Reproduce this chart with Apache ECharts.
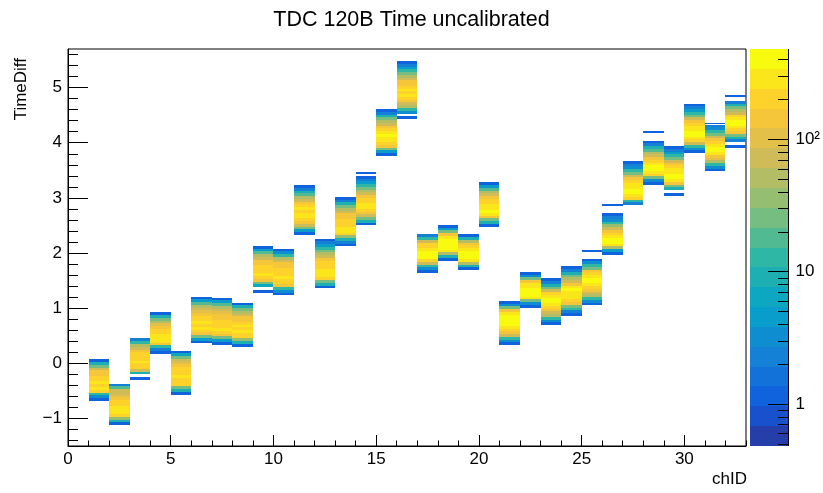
<!DOCTYPE html>
<html><head><meta charset="utf-8">
<script src="https://cdn.jsdelivr.net/npm/echarts@6/dist/echarts.min.js"></script>
<style>html,body{margin:0;padding:0;background:#fff}#c{width:823px;height:493px}</style>
</head><body><div id="c"></div>
<script>
// ---------- data ----------
const title = 'TDC 120B Time uncalibrated';
const xName = 'chID';
const yName = 'TimeDiff';
const channels = [1,2,3,4,5,6,7,8,9,10,11,12,13,14,15,16,17,18,19,20,21,22,23,24,25,26,27,28,29,30,31,32];
// lower edge (TimeDiff) of the first filled bin of each channel
const binStart = [-0.68,-1.12,-0.30,0.175,-0.57,0.36,0.34,0.30,1.28,1.23,2.33,1.36,2.12,2.50,3.76,4.43,
                  1.64,1.86,1.69,2.48,0.33,1.01,0.69,0.86,1.05,1.97,2.87,3.24,3.04,3.81,3.48,3.91];
// bin contents, bottom to top, per channel
const counts = [
  [1,3,12,200,280,200,250,200,200,130,130,70,30,10,1],
  [1,10,40,200,250,280,250,200,180,130,100,80,70,20,2],
  [1,0,10,80,200,200,260,200,200,180,130,80,50,15,2],
  [1,2,15,150,260,300,260,200,200,130,100,60,25,8,1],
  [1,8,30,200,200,200,250,200,200,180,150,100,70,25,6,1],
  [1,5,30,150,200,250,200,250,200,200,150,100,80,50,20,5,1],
  [1,5,25,150,200,260,200,200,200,150,130,100,70,50,20,5,1],
  [1,8,40,200,200,260,200,250,200,150,130,80,60,25,8,1],
  [1,0,6,25,150,200,260,200,200,200,150,130,80,50,20,5,1],
  [1,3,15,130,200,200,250,200,200,200,150,130,80,50,15,3,1],
  [1,5,25,70,130,200,250,260,200,250,200,150,80,50,20,8,2,1],
  [1,8,30,200,250,280,250,200,200,200,130,80,50,25,12,5,2,1],
  [1,2,8,40,200,250,260,200,200,200,150,130,80,50,25,8,2,1],
  [1,8,30,80,150,200,250,260,200,200,130,80,50,25,12,4,2,1],
  [1,5,30,150,200,300,300,350,250,200,130,80,50,25,8,2,1],
  [1,0,3,15,50,80,130,200,250,200,250,200,150,130,80,50,25,12,5,2,1],
  [1,3,12,70,200,350,420,350,250,200,200,80,15,2],
  [1,8,50,250,400,450,400,350,250,130,30,5,1],
  [1,8,50,250,350,420,350,250,200,150,50,8,1],
  [1,8,30,150,250,350,300,250,220,200,130,80,50,20,5,1],
  [1,3,15,80,150,200,250,350,400,400,350,250,150,25,3,1],
  [1,3,30,250,350,420,400,300,250,130,25,3,1],
  [1,3,12,50,80,130,200,300,400,400,300,200,80,30,8,2,1],
  [1,2,12,30,130,200,250,250,300,350,250,150,80,50,25,8,2,1],
  [1,3,15,50,80,130,200,300,400,400,300,200,130,30,12,3,1],
  [1,5,50,250,350,400,300,200,150,80,40,15,3,2,1],
  [2,15,200,300,400,400,300,250,200,130,70,30,12,3,2,1],
  [1,3,25,200,300,400,350,300,200,150,80,50,20,8,2,1],
  [1,0,8,30,150,250,350,400,300,250,200,130,70,30,12,5,2,1],
  [1,3,15,80,200,300,400,350,300,250,200,130,70,30,12,5,2,1],
  [1,3,15,50,100,150,300,400,350,300,200,130,70,30,12,3,2],
  [1,0,2,8,25,130,200,300,400,350,300,200,80,50,25,8,2]
];
// isolated single entries
const outlierCh = [14,25,26,28,31,32];
const outlierY = [3.45,2.04,2.87,4.19,4.35,4.85];
const outlierCount = [1,1,1,1,1,1];
// axes
const xTicks = [0,5,10,15,20,25,30];
const yTicks = [-1,0,1,2,3,4,5];
const zTicks = [1,10,100];
const zTickLabels = ['1','10','10²'];
const zMinorTicks = [0.5,0.6,0.7,0.8,0.9,2,3,4,5,6,7,8,9,20,30,40,50,60,70,80,90,200,300,400];

// ---------- constants ----------
const BIN = 0.05, OUT_H = 0.03;
const X_MIN = 0, X_MAX = 33, Y_MIN = -1.5, Y_MAX = 5.7;
const Z_MIN = 0.48, Z_MAX = 480, N_LEVELS = 20;
const LMIN = Math.log10(Z_MIN), LMAX = Math.log10(Z_MAX);
const FONT = '"Liberation Sans", Arial, Helvetica, sans-serif';
const CB = {left:750, top:49, width:38, height:397};

// ROOT kBird palette
const ST = [0,0.125,0.25,0.375,0.5,0.625,0.75,0.875,1];
const R = [0.2082,0.0592,0.0780,0.0232,0.1802,0.5301,0.8186,0.9956,0.9764];
const G = [0.1664,0.3599,0.5041,0.6419,0.7178,0.7492,0.7328,0.7862,0.9832];
const B = [0.5293,0.8684,0.8385,0.7914,0.6425,0.4662,0.3499,0.1968,0.0539];
function paletteAt(f){
  f = Math.max(0, Math.min(1, f));
  let k = 0; while (k < ST.length-2 && f > ST[k+1]) k++;
  const t = (f-ST[k])/(ST[k+1]-ST[k]);
  const c = a => Math.round(255*(a[k]+(a[k+1]-a[k])*t));
  return 'rgb('+c(R)+','+c(G)+','+c(B)+')';
}
const levelColors = [];
for (let i=0;i<N_LEVELS;i++) levelColors.push(paletteAt((i+0.99)/N_LEVELS));
function colorFor(c){
  let k = Math.floor((Math.log10(c)-LMIN)/(LMAX-LMIN)*N_LEVELS);
  k = Math.max(0, Math.min(N_LEVELS-1, k));
  return levelColors[k];
}

// ---------- build cells ----------
const cells = [];
channels.forEach((ch, i) => {
  counts[i].forEach((c, j) => {
    if (c > 0) cells.push([ch, binStart[i]+j*BIN, binStart[i]+(j+1)*BIN, c]);
  });
});
outlierCh.forEach((ch, i) => {
  cells.push([ch, outlierY[i]-OUT_H/2, outlierY[i]+OUT_H/2, outlierCount[i]]);
});

function rectFrom(api, x0, y0, x1, y1, fill){
  const p0 = api.coord([x0, y0]), p1 = api.coord([x1, y1]);
  const xa = Math.round(p0[0]), xb = Math.round(p1[0]);
  const ya = Math.round(p1[1]), yb = Math.round(p0[1]);
  return {type:'rect', shape:{x:xa, y:ya, width:xb-xa, height:Math.max(1,yb-ya)}, style:{fill:fill}};
}

// ---------- colour bar: bands, frame line and ticks (drawn in order, ticks last) ----------
const zY = lv => CB.top + (LMAX - lv)/(LMAX - LMIN)*CB.height;
const xr = CB.left + CB.width;
const cbChildren = [];
for (let i=0;i<N_LEVELS;i++){
  const lo = LMIN + i*(LMAX-LMIN)/N_LEVELS, hi = LMIN + (i+1)*(LMAX-LMIN)/N_LEVELS;
  const ya = Math.round(zY(hi)), yb = Math.round(zY(lo));
  cbChildren.push({type:'rect', z2:1, silent:true, shape:{x:CB.left, y:ya, width:CB.width, height:yb-ya}, style:{fill:levelColors[i]}});
}
cbChildren.push({type:'rect', z2:10, silent:true, shape:{x:xr, y:CB.top, width:1, height:CB.height}, style:{fill:'#000'}});
zTicks.concat(zMinorTicks).forEach(v => {
  const len = zTicks.indexOf(v) >= 0 ? 20 : 10;
  const y = Math.round(zY(Math.log10(v)));
  cbChildren.push({type:'rect', z2:10, silent:true, shape:{x:xr-len, y:y, width:len, height:1}, style:{fill:'#000'}});
});

const chart = echarts.init(document.getElementById('c'), null, {renderer:'canvas'});
const labelStyle = {color:'#000', fontFamily:FONT, fontSize:17};
const range = (a,b,s) => { const r=[]; for(let v=a; v<=b+1e-9; v+=s) r.push(Math.round(v*100)/100); return r; };

chart.setOption({
  animation:false,
  backgroundColor:'#fff',
  title:{text:title, left:'center', top:4, textStyle:{fontFamily:FONT, fontSize:21.5, fontWeight:'normal', color:'#000'}},
  grid:[
    {left:68, top:49, width:678, height:397, show:true, borderColor:'#000', borderWidth:1, backgroundColor:'transparent'},
    {left:CB.left, top:CB.top, width:CB.width, height:CB.height, show:false}
  ],
  xAxis:[
    {gridIndex:0, type:'value', min:X_MIN, max:X_MAX, position:'bottom', z:10,
     axisLine:{show:true, onZero:false, lineStyle:{color:'#000', width:1}},
     axisTick:{show:true, inside:true, length:11, customValues:xTicks, lineStyle:{color:'#000'}},
     axisLabel:{show:true, customValues:xTicks, margin:5, ...labelStyle},
     splitLine:{show:false}},
    {gridIndex:0, type:'value', min:X_MIN, max:X_MAX, position:'bottom', z:10,
     axisLine:{show:false, onZero:false},
     axisTick:{show:true, inside:true, length:5.5, customValues:range(0,33,1), lineStyle:{color:'#000'}},
     axisLabel:{show:false}, splitLine:{show:false}},
    {gridIndex:1, type:'value', min:0, max:1, show:false, axisLine:{onZero:false}}
  ],
  yAxis:[
    {gridIndex:0, type:'value', min:Y_MIN, max:Y_MAX, position:'left', z:10,
     axisLine:{show:true, onZero:false, lineStyle:{color:'#000', width:1}},
     axisTick:{show:true, inside:true, length:20, customValues:yTicks, lineStyle:{color:'#000'}},
     axisLabel:{show:true, customValues:yTicks, margin:6, ...labelStyle, formatter:v => (v<0?'\u2212'+Math.abs(v):String(v))},
     splitLine:{show:false}},
    {gridIndex:0, type:'value', min:Y_MIN, max:Y_MAX, position:'left', z:10,
     axisLine:{show:false, onZero:false},
     axisTick:{show:true, inside:true, length:10, customValues:range(-1.4,5.6,0.2), lineStyle:{color:'#000'}},
     axisLabel:{show:false}, splitLine:{show:false}},
    {gridIndex:1, type:'value', min:LMIN, max:LMAX, position:'right', z:10,
     axisLine:{show:false, onZero:false},
     axisTick:{show:false},
     axisLabel:{show:true, customValues:zTicks.map(Math.log10), margin:8, ...labelStyle,
       formatter:v => zTickLabels[zTicks.findIndex(z => Math.abs(Math.log10(z)-v)<1e-6)]},
     splitLine:{show:false}}
  ],
  graphic:[
    {type:'text', x:747, y:471, style:{text:xName, fill:'#000', font:'17px '+FONT, align:'right', verticalAlign:'top'}},
    {type:'text', x:13, y:58, rotation:Math.PI/2, style:{text:yName, fill:'#000', font:'17px '+FONT, align:'right', verticalAlign:'top'}},
    {type:'group', silent:true, children:cbChildren}
  ],
  series:[
    {type:'custom', xAxisIndex:0, yAxisIndex:0, clip:true, data:cells, progressive:0,
     renderItem:(params, api) => rectFrom(api, api.value(0), api.value(1), api.value(0)+1, api.value(2), colorFor(api.value(3))),
     encode:{x:0, y:[1,2]}, silent:true, z:1}
  ]
});
</script></body></html>
